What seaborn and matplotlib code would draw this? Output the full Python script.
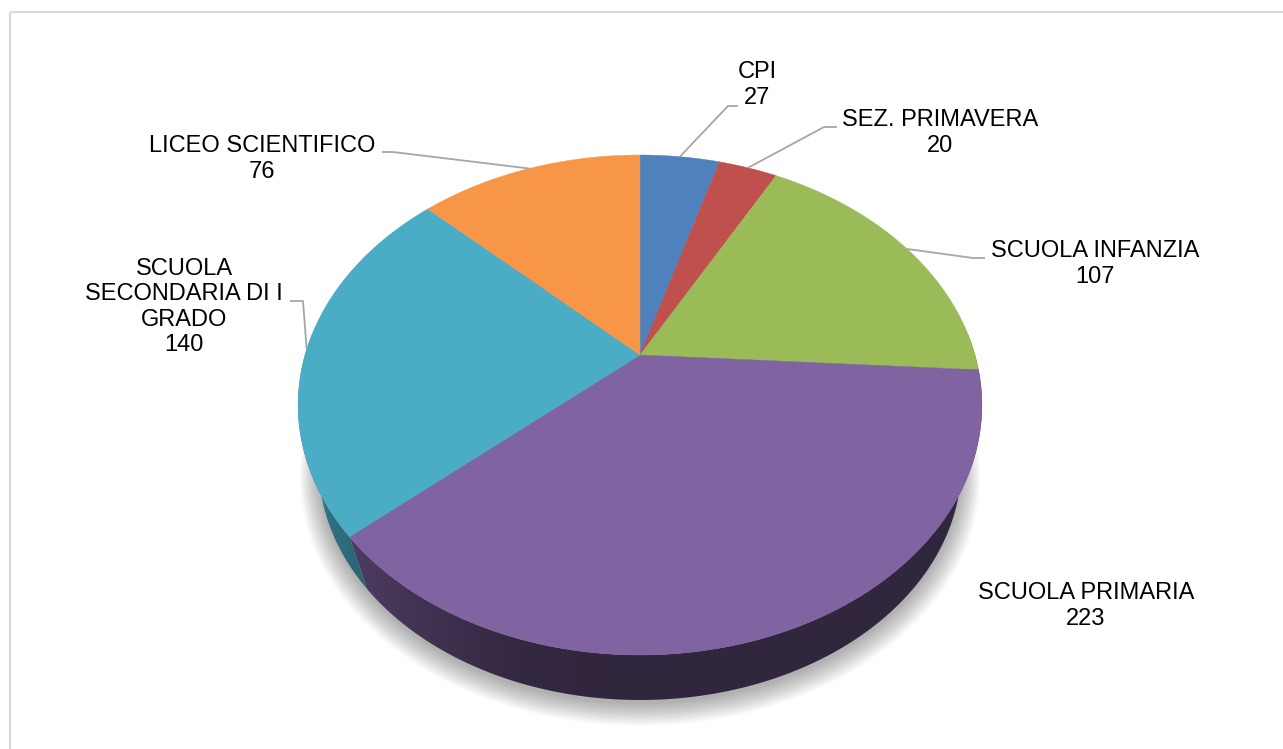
import numpy as np
import seaborn as sns
import matplotlib.pyplot as plt
from matplotlib.patches import Polygon, Rectangle

# data
categorie = ['CPI', 'SEZ. PRIMAVERA', 'SCUOLA INFANZIA', 'SCUOLA PRIMARIA',
             'SCUOLA SECONDARIA DI I GRADO', 'LICEO SCIENTIFICO']
etichette = ['CPI', 'SEZ. PRIMAVERA', 'SCUOLA INFANZIA', 'SCUOLA PRIMARIA',
             'SCUOLA\nSECONDARIA DI I\nGRADO', 'LICEO SCIENTIFICO']
valori = [27, 20, 107, 223, 140, 76]
colori = ['#4F81BD', '#C0504D', '#9BBB59', '#8064A2', '#4BACC6', '#F79646']

# label layout (pixel coords): text centre, elbow, end of leader line
pos_testo = [(757, 85), (940, 133), (1095, 264), (1086, 606), (184, 307), (262, 159)]
gomito = [(728, 106), (824, 127), (973, 258), None, (303, 301), (393, 152)]
fine = [(738, 106), (837, 127), (985, 258), None, (290, 301), (382, 152)]

sns.set_theme(style='white')
palette = sns.color_palette(colori)
plt.rcParams['font.family'] = ['Liberation Sans', 'DejaVu Sans']

# pie geometry (pixels) - simple perspective on a tilted disc
CX, CY = 640, 355
RX, RY, K = 335, 240, 0.2
VY = 1400      # vanishing point of the vertical edges
S_BOT = 0.9396  # bottom disc scale towards VY


def project(theta):
    t = np.radians(theta)
    u, v = np.sin(t), -np.cos(t)
    w = 1 - K * v
    return CX + RX * u / w, CY + RY * v / w


def project_bot(theta):
    x, y = project(theta)
    return CX + (x - CX) * S_BOT, VY + (y - VY) * S_BOT


fig = plt.figure(figsize=(12.83, 7.49), dpi=100)
ax = fig.add_axes([0, 0, 1, 1])

ax.add_patch(Rectangle((10, 12), 1300, 760, fill=False, edgecolor='#d9d9d9', lw=1.5))

tot = sum(valori)
angoli = np.concatenate([[0], np.cumsum(valori) / tot * 360])

# soft shadow under the disc
th = np.linspace(0, 360, 361)
bx, by = project_bot(th)
cyb = by.mean()
for i in range(14):
    s = 1 + i * 0.0045
    pts = np.column_stack([CX + (bx - CX) * s, cyb + (by - cyb) * s + 4 + i * 0.5])
    ax.add_patch(Polygon(pts, closed=True, facecolor='black', edgecolor='none', alpha=0.022))

# shading of the side wall along x
th_f = np.linspace(90, 270, 400)
x_f = project(th_f)[0]
sh_f = np.interp(th_f, [90, 185, 198, 210, 235, 270], [0.38, 0.38, 0.41, 0.49, 0.65, 0.82])
xg = np.arange(0, 1283)
shade_x = np.interp(xg, x_f[::-1], sh_f[::-1])

# side wall, only the front half can be seen
for i, col in enumerate(palette):
    a0, a1 = max(angoli[i], 85), min(angoli[i + 1], 275)
    if a1 <= a0:
        continue
    t = np.linspace(a0, a1, 200)
    tx, ty = project(t)
    qx, qy = project_bot(t)
    pts = np.column_stack([np.r_[tx, qx[::-1]], np.r_[ty, qy[::-1]]])
    poly = Polygon(pts, closed=True, facecolor='none', edgecolor='none')
    ax.add_patch(poly)
    img = np.clip(np.array(col)[None, None, :] * shade_x[None, :, None], 0, 1)
    im = ax.imshow(img, extent=(0, 1283, 749, 0), aspect='auto', interpolation='bilinear',
                   zorder=1.5)
    im.set_clip_path(poly)

# top face
for i, col in enumerate(palette):
    t = np.linspace(angoli[i], angoli[i + 1], 200)
    xs, ys = project(t)
    pts = np.column_stack([np.r_[CX, xs], np.r_[CY, ys]])
    ax.add_patch(Polygon(pts, closed=True, facecolor=col, edgecolor=col, lw=0.3, zorder=2))

# labels with leader lines
for i in range(len(valori)):
    mid = (angoli[i] + angoli[i + 1]) / 2
    if gomito[i] is not None:
        px, py = project(mid)
        ax.plot([px, gomito[i][0], fine[i][0]], [py, gomito[i][1], fine[i][1]],
                color='#a6a6a6', lw=1.3, solid_capstyle='butt', zorder=3)
    ax.text(pos_testo[i][0], pos_testo[i][1], f'{etichette[i]}\n{valori[i]}',
            ha='center', va='center', multialignment='center', fontsize=17,
            color='black', linespacing=1.2, zorder=4)

ax.set_xlim(0, 1283)
ax.set_ylim(749, 0)
ax.axis('off')
fig.savefig('out.png', dpi=100)
